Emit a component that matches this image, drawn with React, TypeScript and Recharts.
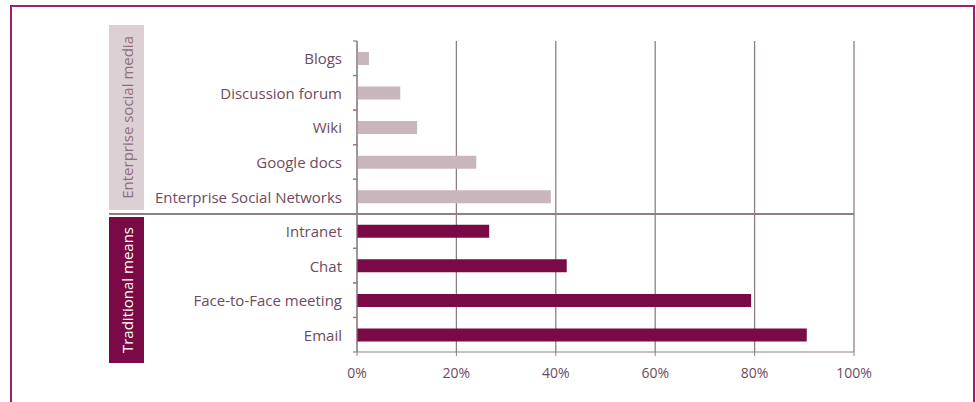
import { BarChart, Bar, XAxis, YAxis, CartesianGrid, Cell } from 'recharts'

const socialCategories = ['Blogs', 'Discussion forum', 'Wiki', 'Google docs', 'Enterprise Social Networks']
const socialValues = [2.4, 8.7, 12.1, 24, 39]
const traditionalCategories = ['Intranet', 'Chat', 'Face-to-Face meeting', 'Email']
const traditionalValues = [26.6, 42.2, 79.3, 90.5]
const xTicks = [0, 20, 40, 60, 80, 100]
const groupLabels = ['Enterprise social media', 'Traditional means']

const data = [
  ...socialCategories.map((name, i) => ({ name, value: socialValues[i], group: 0 })),
  ...traditionalCategories.map((name, i) => ({ name, value: traditionalValues[i], group: 1 })),
]

const W = 976
const H = 402
const margin = { top: 41, right: 122, bottom: 0, left: 0 }
const xAxisHeight = 50
const yAxisWidth = 357
const plotLeft = margin.left + yAxisWidth
const plotRight = W - margin.right
const plotHeight = H - margin.top - margin.bottom - xAxisHeight
const band = plotHeight / data.length
const sepY = margin.top + band * socialCategories.length

const font = '"Open Sans", sans-serif'
const textColor = '#6e4b5d'
const gridColor = '#8e7e86'
const lightBar = '#c9b6bd'
const darkBar = '#7a0a45'
const frame = '#a11f6d'

function CategoryTick(props: any) {
  const { x, y, payload } = props
  const top = y - band / 2
  const bottom = y + band / 2
  return (
    <g>
      <line x1={plotLeft - 4} x2={plotLeft} y1={top} y2={top} stroke={gridColor} strokeWidth={1.2} />
      <line x1={plotLeft - 4} x2={plotLeft} y1={bottom} y2={bottom} stroke={gridColor} strokeWidth={1.2} />
      <text x={x} y={y} textAnchor="end" dominantBaseline="central" fill={textColor} fontSize={15} fontFamily={font}>
        {payload.value}
      </text>
    </g>
  )
}

export default function App() {
  return (
    <div style={{ position: 'fixed', left: 0, top: 0, width: W, height: H, background: '#fff', overflow: 'hidden' }}>
      <div style={{ position: 'absolute', left: 10, top: 5, width: 961, height: 440, border: `2px solid ${frame}` }} />

      <div style={{ position: 'absolute', left: 109, top: 25, width: 35, height: 185, background: '#ddd0d5',
        display: 'flex', alignItems: 'center', justifyContent: 'center' }}>
        <span style={{ writingMode: 'vertical-rl', transform: 'rotate(180deg)', fontFamily: font, fontSize: 15, color: '#8d6e7c', whiteSpace: 'nowrap' }}>
          {groupLabels[0]}
        </span>
      </div>
      <div style={{ position: 'absolute', left: 109, top: 217, width: 35, height: 146, background: darkBar,
        display: 'flex', alignItems: 'center', justifyContent: 'center' }}>
        <span style={{ writingMode: 'vertical-rl', transform: 'rotate(180deg)', fontFamily: font, fontSize: 15, color: '#fff', whiteSpace: 'nowrap' }}>
          {groupLabels[1]}
        </span>
      </div>

      <div style={{ position: 'absolute', left: 0, top: 0 }}>
        <BarChart width={W} height={H} data={data} layout="vertical" margin={margin}>
          <CartesianGrid horizontal={false} stroke={gridColor} strokeWidth={1.3} />
          <XAxis
            type="number"
            domain={[0, 100]}
            ticks={xTicks}
            height={xAxisHeight}
            tickFormatter={(v: number) => `${v}%`}
            stroke={gridColor}
            tickSize={4}
            tickMargin={12}
            tick={{ fill: textColor, fontSize: 14, fontFamily: font }}
          />
          <YAxis
            type="category"
            dataKey="name"
            width={yAxisWidth}
            stroke={gridColor}
            tickLine={false}
            tickSize={4}
            tickMargin={11}
            interval={0}
            tick={<CategoryTick />}
          />
          <Bar dataKey="value" barSize={13} isAnimationActive={false}>
            {data.map((d, i) => (
              <Cell key={i} fill={d.group === 0 ? lightBar : darkBar} />
            ))}
          </Bar>
        </BarChart>
      </div>

      <div style={{ position: 'absolute', left: 109, top: sepY - 0.5, width: plotRight - 109, height: 1.3, background: gridColor }} />
    </div>
  )
}
